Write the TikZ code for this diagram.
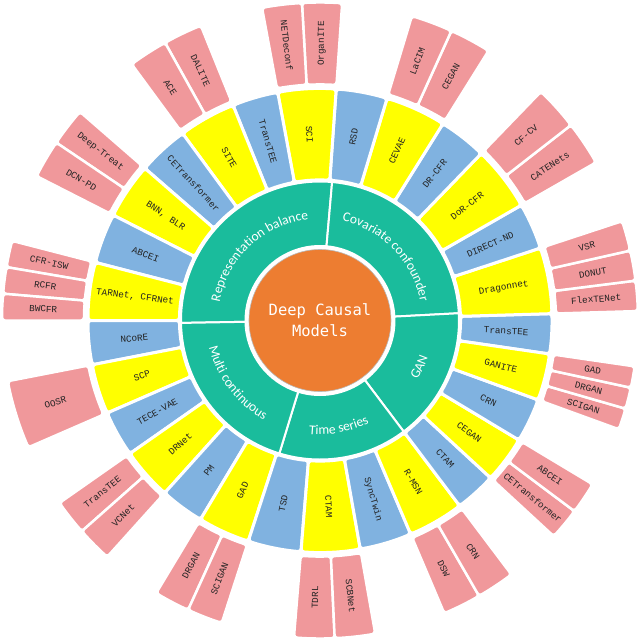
\documentclass[tikz,border=0pt]{standalone}
\usepackage{xcolor}
\usepackage{fontspec}
\setmainfont{Liberation Mono}
\newfontfamily\coremono{DejaVu Sans Mono}
\newfontfamily\groupsans{Carlito}
\usetikzlibrary{decorations.text}

\definecolor{coreorange}{RGB}{237,125,49}
\definecolor{groupgreen}{RGB}{26,188,156}
\definecolor{modelyellow}{RGB}{255,255,0}
\definecolor{modelblue}{RGB}{128,178,224}
\definecolor{refpink}{RGB}{240,152,155}
\definecolor{inkgray}{RGB}{35,35,35}

% annular sector: start angle, end angle, inner radius, outer radius (pt)
\newcommand{\annsector}[4]{(#1:#3pt) arc[start angle=#1, end angle=#2, radius=#3pt] -- (#2:#4pt) arc[start angle=#2, end angle=#1, radius=#4pt] -- cycle}
\newcommand{\grouptext}{\groupsans\fontsize{13.5pt}{16pt}\selectfont}

\begin{document}
\begin{tikzpicture}[
  ringseg/.style={draw=white, line width=3pt, rounded corners=3pt},
  leaf/.style={fill=refpink, draw=white, line width=2.5pt, rounded corners=3pt},
  category/.style={fill=groupgreen, draw=white, line width=2pt},
  modeltext/.style={font=\fontsize{9.3pt}{11pt}\selectfont, text=inkgray, inner sep=0pt},
  arclabel/.style={decorate, decoration={text along path, text align=center, text color=white, text={|\grouptext|#1}}},
]
\useasboundingbox (-320pt,-320.5pt) rectangle (320pt,320.5pt);

% Reference boxes
\foreach \sa/\sb/\cnt/\names [count=\g] in {
  1.7/18.2/3/{FlexTENet,DONUT,VSR},
  29.8/46/2/{CATENets,CF-CV},
  58/73.2/2/{CEGAN,LaCIM},
  86/100.5/2/{OrganITE,NETDeconf},
  112/126.3/2/{DALITE,ACE},
  139/153/2/{Deep-Treat,DCN-PD},
  165.5/180/3/{CFR-ISW,RCFR,BWCFR},
  191/203.5/1/{OOSR},
  215/228/2/{TransTEE,VCNet},
  239/252/2/{DRGAN,SCIGAN},
  265.3/280/2/{TDRL,SCBNet},
  293/307/2/{DSW,CRN},
  317.3/329/2/{CETransformer,ABCEI},
  340/351.7/3/{SCIGAN,DRGAN,GAD}}{
  \foreach \name [count=\k] in \names {
    \pgfmathsetmacro\pa{\sa+(\k-1)*(\sb-\sa)/\cnt}
    \pgfmathsetmacro\pb{\sa+\k*(\sb-\sa)/\cnt}
    \pgfmathsetmacro\mid{(\pa+\pb)/2}
    \pgfmathsetmacro\rot{cos(\mid)<0 ? \mid+180 : \mid}
    \filldraw[leaf] \annsector{\pa}{\pb}{236}{318};
    \node[modeltext, rotate=\rot] (ref\g-\k) at (\mid:277pt) {\name};
  }
}

% Model ring
\foreach \sa/\sb/\col/\lbl [count=\i] in {
  -8.3/1.7/modelblue/TransTEE, 1.7/18.2/modelyellow/Dragonnet,
  18.2/29.8/modelblue/DIRECT-ND, 29.8/46/modelyellow/DoR-CFR,
  46/58/modelblue/DR-CFR, 58/73.2/modelyellow/CEVAE,
  73.2/86/modelblue/RSD, 86/100.5/modelyellow/SCI,
  100.5/112/modelblue/TransTEE, 112/126.3/modelyellow/SITE,
  126.3/139/modelblue/CETransformer, 139/153/modelyellow/{BNN, BLR},
  153/165.5/modelblue/ABCEI, 165.5/180/modelyellow/{TARNet, CFRNet},
  180/191/modelblue/NCoRE, 191/203.5/modelyellow/SCP,
  203.5/215/modelblue/TECE-VAE, 215/228/modelyellow/DRNet,
  228/239/modelblue/PM, 239/252/modelyellow/GAD,
  252/265.3/modelblue/TSD, 265.3/280/modelyellow/CTAM,
  280/293/modelblue/SyncTwin, 293/307/modelyellow/R-MSN,
  307/317.3/modelblue/CTAM, 317.3/329/modelyellow/CEGAN,
  329/340/modelblue/CRN, 340/351.7/modelyellow/GANITE}{
  \pgfmathsetmacro\mid{(\sa+\sb)/2}
  \pgfmathsetmacro\rot{cos(\mid)<0 ? \mid+180 : \mid}
  \filldraw[ringseg, fill=\col] \annsector{\sa}{\sb}{140.5}{232};
  \node[modeltext, rotate=\rot] (model\i) at (\mid:186.5pt) {\lbl};
}

% Category ring
\foreach \sa/\sb in {85/181, 3/85, -53/3, -107/-53, 181/253}
  \filldraw[category] \annsector{\sa}{\sb}{74.5}{139};

\path[arclabel={Representation balance}] (181:102pt) arc[start angle=181, end angle=85, radius=102pt];
\path[arclabel={Covariate confounder}] (85:102pt) arc[start angle=85, end angle=3, radius=102pt];
\path[arclabel={GAN}] (-53:114pt) arc[start angle=-53, end angle=3, radius=114pt];
\path[arclabel={Time series}] (-107:114pt) arc[start angle=-107, end angle=-53, radius=114pt];
\path[arclabel={Multi continuous}] (181:114pt) arc[start angle=181, end angle=253, radius=114pt];

% Core
\node[circle, fill=coreorange, draw=gray!55, line width=0.6pt, minimum size=142pt, inner sep=0pt,
      text=white, align=center, font=\coremono\fontsize{15.5pt}{21pt}\selectfont] (core) at (0,0) {Deep Causal\\Models};

\end{tikzpicture}
\end{document}
